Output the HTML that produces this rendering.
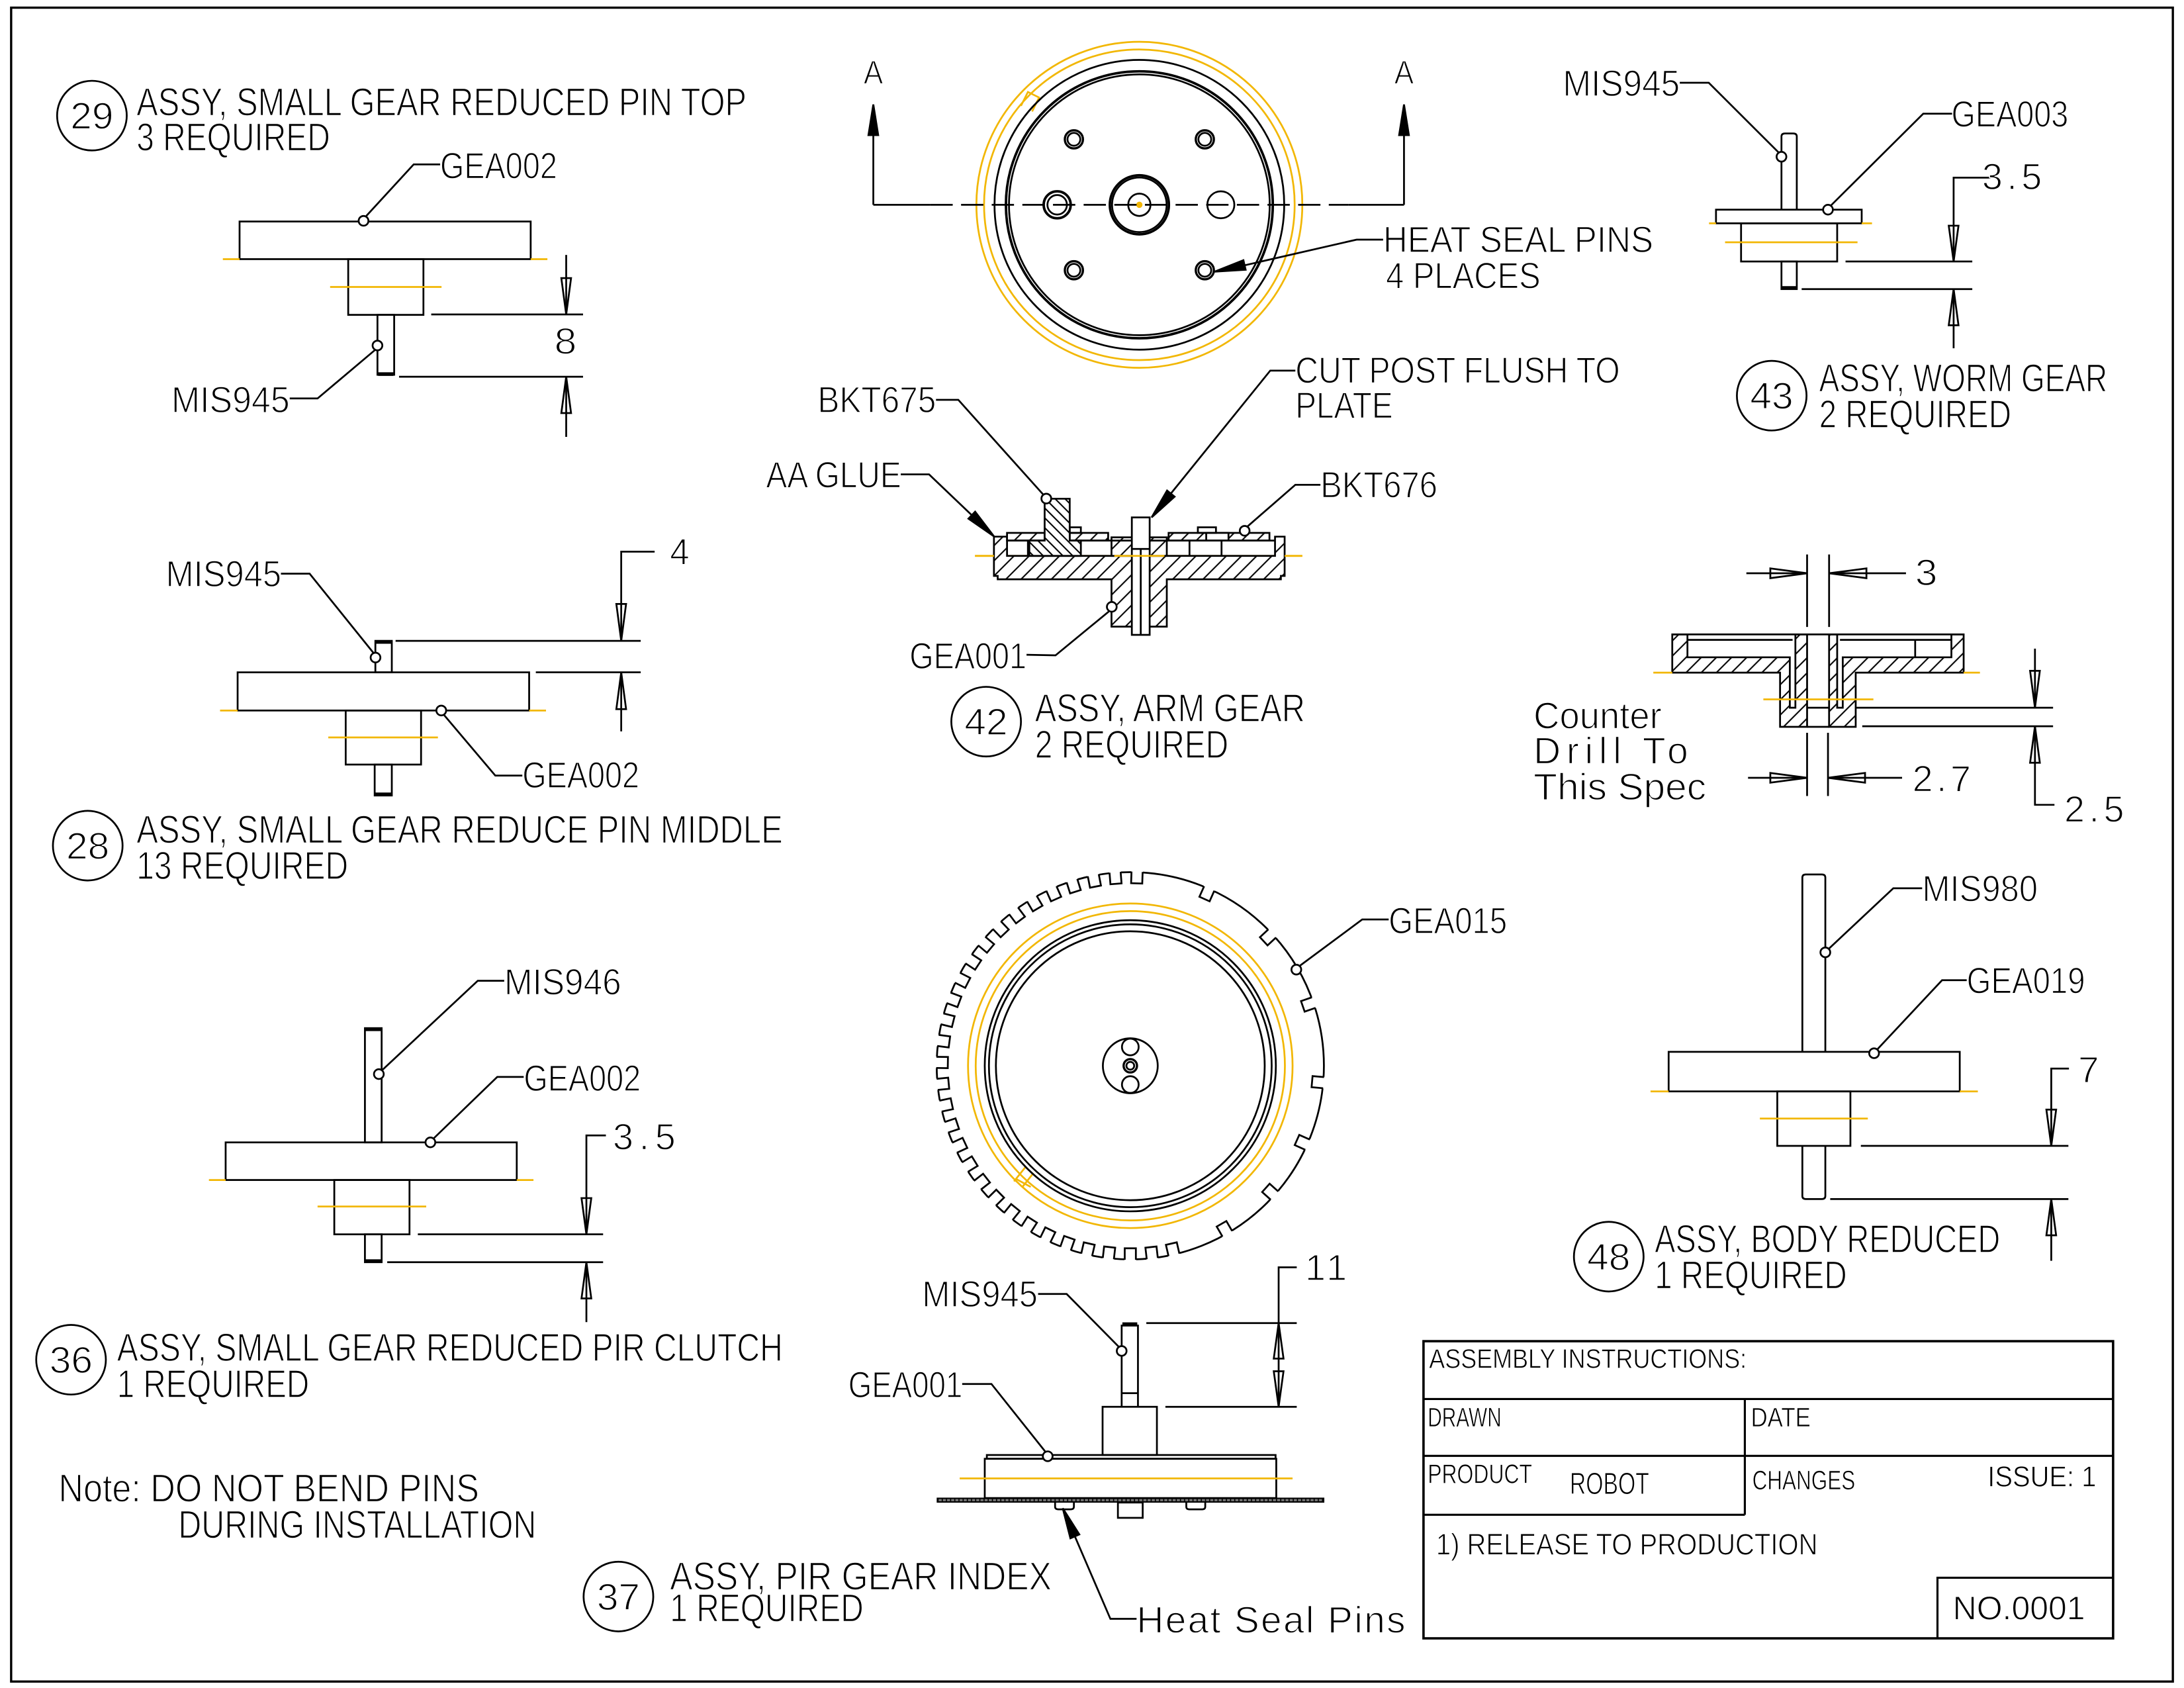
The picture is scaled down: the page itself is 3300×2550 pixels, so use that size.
<!DOCTYPE html>
<html><head><meta charset="utf-8">
<style>
html,body{margin:0;padding:0;background:#fff;}
svg{display:block;}
text{font-family:"Liberation Sans",sans-serif;fill:#000;stroke:#fff;stroke-width:0.7px;}
</style></head><body>
<svg xmlns="http://www.w3.org/2000/svg" xmlns:xlink="http://www.w3.org/1999/xlink" width="3300" height="2550" viewBox="0 0 1568 1211.64" preserveAspectRatio="none">
<defs>
<pattern id="hf" patternUnits="userSpaceOnUse" width="7.7" height="7.7" patternTransform="rotate(45)"><rect width="7.7" height="7.7" fill="#fff"/><line x1="3.85" y1="0" x2="3.85" y2="7.7" stroke="#000" stroke-width="1"/></pattern>
<pattern id="hb" patternUnits="userSpaceOnUse" width="5" height="5" patternTransform="rotate(-45)"><rect width="5" height="5" fill="#fff"/><line x1="2.5" y1="0" x2="2.5" y2="5" stroke="#000" stroke-width="1"/></pattern>
<pattern id="tk" patternUnits="userSpaceOnUse" width="3" height="4"><rect width="3" height="4" fill="#777"/><line x1="1.5" y1="0" x2="1.5" y2="4" stroke="#000" stroke-width="0.8"/></pattern>
<g id="slot"><rect x="129" y="-4.2" width="13" height="8.4" fill="#fff" stroke="none"/><polyline points="139.3,-4 131,-4 131,4 139.3,4" fill="none" stroke="#000" stroke-width="1.3"/></g>
</defs>
<rect width="1568" height="1211.64" fill="#fff"/>

<!-- border -->
<rect x="8" y="5.5" width="1552" height="1201.5" fill="none" stroke="#000" stroke-width="1.6"/>

<g fill="none" stroke="#000" stroke-width="1.3">
<!-- ============ PART 29 ============ -->
<rect x="172" y="159" width="209" height="27"/>
<rect x="250" y="186" width="54" height="40"/>
<rect x="271" y="226" width="12" height="43"/>
<line x1="271.5" y1="268.5" x2="282.5" y2="268.5" stroke-width="2.6"/>
<g stroke="#f2b705"><line x1="160" y1="186" x2="172" y2="186"/><line x1="381" y1="186" x2="393" y2="186"/><line x1="237" y1="206" x2="317" y2="206"/></g>
<polyline points="316,118 297,118 263,155"/><circle cx="261" cy="158.5" r="3.5" fill="#fff"/>
<polyline points="208,286 228,286 269.5,251"/><circle cx="271" cy="248" r="3.5" fill="#fff"/>
<line x1="309.6" y1="225.7" x2="418.6" y2="225.7"/>
<line x1="286.5" y1="270.4" x2="418.6" y2="270.4"/>
<line x1="406.5" y1="183" x2="406.5" y2="225.7"/>
<line x1="406.5" y1="270.4" x2="406.5" y2="313.6"/>
<polygon points="406.5,225.7 403,199.6 410,199.6"/>
<polygon points="406.5,270.4 403,296.5 410,296.5"/>

<!-- ============ PART 28 ============ -->
<rect x="269.5" y="460" width="11.8" height="22.6"/>
<line x1="270" y1="460.8" x2="281" y2="460.8" stroke-width="2.6"/>
<rect x="170.6" y="482.6" width="209.3" height="27.4"/>
<rect x="248.2" y="510" width="54.1" height="38.8"/>
<rect x="269" y="548.8" width="12.3" height="22.2"/>
<line x1="269.5" y1="570.2" x2="280.8" y2="570.2" stroke-width="2.6"/>
<g stroke="#f2b705"><line x1="158" y1="510" x2="170.6" y2="510"/><line x1="379.9" y1="510" x2="392" y2="510"/><line x1="235.7" y1="529.3" x2="314.4" y2="529.3"/></g>
<polyline points="201.7,411.8 222.3,411.8 268,468.5"/><circle cx="269.6" cy="472" r="3.5" fill="#fff"/>
<polyline points="375,556.7 355.6,556.7 318.6,513"/><circle cx="316.8" cy="510" r="3.5" fill="#fff"/>
<polyline points="470,396 446,396 446,460"/>
<line x1="446" y1="482.6" x2="446" y2="525"/>
<line x1="284" y1="460" x2="460" y2="460"/>
<line x1="384.7" y1="482.6" x2="460" y2="482.6"/>
<polygon points="446,460 442.5,433.5 449.5,433.5"/>
<polygon points="446,482.6 442.5,509 449.5,509"/>

<!-- ============ PART 36 ============ -->
<rect x="262" y="738" width="12" height="82"/>
<line x1="262.5" y1="738.8" x2="273.5" y2="738.8" stroke-width="2.6"/>
<rect x="162" y="820" width="209" height="27"/>
<rect x="240" y="847" width="54" height="39"/>
<rect x="262" y="886" width="12" height="20"/>
<line x1="262.5" y1="905.2" x2="273.5" y2="905.2" stroke-width="2.6"/>
<g stroke="#f2b705"><line x1="150" y1="847" x2="162" y2="847"/><line x1="371" y1="847" x2="383" y2="847"/><line x1="228" y1="866" x2="306" y2="866"/></g>
<polyline points="362,704 343,704 274.5,768"/><circle cx="272" cy="771" r="3.5" fill="#fff"/>
<polyline points="376,773 357,773 311.5,817"/><circle cx="309" cy="820" r="3.5" fill="#fff"/>
<polyline points="435,815 421,815 421,886"/>
<line x1="421" y1="906" x2="421" y2="949"/>
<line x1="300" y1="886" x2="433" y2="886"/>
<line x1="278" y1="906" x2="433" y2="906"/>
<polygon points="421,886 417.5,860 424.5,860"/>
<polygon points="421,906 417.5,932 424.5,932"/>

<!-- number circles -->
<circle cx="66" cy="83" r="25"/>
<circle cx="63" cy="607" r="25"/>
<circle cx="51" cy="976" r="25"/>
<circle cx="444" cy="1146" r="25"/>
<circle cx="708" cy="518" r="25"/>
<circle cx="1272" cy="284" r="25"/>
<circle cx="1155" cy="902" r="25"/>

<!-- ============ TOP PLAN VIEW ============ -->
<g stroke="#f2b705" stroke-width="1.3">
<circle cx="818" cy="147" r="117"/>
<circle cx="818" cy="147" r="111.5"/>
<path d="M733,76 L738,66 L746,70 L741,80"/>
<circle cx="818" cy="147" r="1.6" fill="#f2b705"/>
</g>
<circle cx="818" cy="147" r="104"/>
<circle cx="818" cy="147" r="95.8" stroke-width="1.8"/>
<circle cx="818" cy="147" r="93.6"/>
<circle cx="771" cy="100" r="6.5" stroke-width="1.6"/><circle cx="771" cy="100" r="4.6"/>
<circle cx="865" cy="100" r="6.5" stroke-width="1.6"/><circle cx="865" cy="100" r="4.6"/>
<circle cx="771" cy="194" r="6.5" stroke-width="1.6"/><circle cx="771" cy="194" r="4.6"/>
<circle cx="865" cy="194" r="6.5" stroke-width="1.6"/><circle cx="865" cy="194" r="4.6"/>
<circle cx="759" cy="147" r="9.7" stroke-width="1.8"/><circle cx="759" cy="147" r="7"/>
<circle cx="876.5" cy="147" r="9.7"/>
<circle cx="818" cy="147" r="21.2" stroke-width="1.8"/><circle cx="818" cy="147" r="19.6"/>
<circle cx="818" cy="147" r="8"/>
<!-- section line A-A -->
<line x1="627" y1="147" x2="668" y2="147"/>
<line x1="668" y1="147" x2="968" y2="147" stroke-dasharray="16,6"/>
<line x1="968" y1="147" x2="1008" y2="147"/>
<line x1="627" y1="147" x2="627" y2="95"/>
<line x1="1008" y1="147" x2="1008" y2="95"/>
<polygon points="627,75 623.5,97 630.5,97" fill="#000"/>
<polygon points="1008,75 1004.5,97 1011.5,97" fill="#000"/>
<!-- heat seal pins leader -->
<polyline points="993,172 974,172 892,190.8"/>
<polygon points="872,195 894.3,193.6 892.7,186.8" fill="#000"/>

<!-- ============ PART 42 SECTION ============ -->
<line x1="700" y1="399" x2="935" y2="399" stroke="#f2b705"/>
<path d="M713.6,385.2 L723,385.2 L723,399 L915.4,399 L915.4,385.2 L922.3,385.2 L922.3,413.4 L919.6,413.4 L919.6,415.8 L837.7,415.8 L837.7,449.8 L798,449.8 L798,415.8 L716.3,415.8 L716.3,413.4 L713.6,413.4 Z" fill="url(#hf)"/>
<rect x="798" y="385.7" width="39.7" height="13.3" fill="url(#hf)"/>
<rect x="723" y="382.5" width="27" height="5.5" fill="url(#hf)"/>
<rect x="768" y="382.5" width="27.6" height="5.5" fill="url(#hf)"/>
<rect x="839" y="382.5" width="72.4" height="5.5" fill="url(#hf)"/>
<rect x="866" y="382.5" width="16" height="5.5" fill="#fff"/>
<line x1="723" y1="388" x2="915.4" y2="388"/>
<line x1="738" y1="388" x2="738" y2="399"/>
<line x1="776" y1="388" x2="776" y2="399"/>
<line x1="854" y1="388" x2="854" y2="399"/>
<line x1="877" y1="388" x2="877" y2="399"/>
<polygon points="750,358 768,358 768,388 776,388 776,399 739,399 739,388 750,388" fill="url(#hb)"/>
<rect x="768" y="378.5" width="8" height="4"/>
<rect x="860" y="378.5" width="13" height="4"/>
<rect x="812.6" y="371.4" width="12.8" height="84.3" fill="#fff"/>
<line x1="812.6" y1="394" x2="825.4" y2="394"/>
<line x1="819" y1="394" x2="819" y2="455.7"/>
<line x1="700" y1="399" x2="713.6" y2="399" stroke="#f2b705"/>
<line x1="922.3" y1="399" x2="935" y2="399" stroke="#f2b705"/>
<line x1="800" y1="399" x2="836" y2="399" stroke="#f2b705"/>
<!-- leaders 42 -->
<polyline points="672,287 688,287 749,355"/><circle cx="751.2" cy="357.9" r="3.5" fill="#fff"/>
<polyline points="930,266 912,266 840.6,354.3"/>
<polygon points="826.8,371.4 843.3,356.5 837.9,352.1" fill="#000"/>
<polyline points="646.7,340.5 667,340.5 697.7,369.8"/>
<polygon points="713.6,385 695.3,372.3 700.1,367.3" fill="#000"/>
<polyline points="948,348 930,348 895.5,378"/><circle cx="893.6" cy="381" r="3.5" fill="#fff"/>
<polyline points="737,470 757.8,470.4 796,439"/><circle cx="798.2" cy="435.6" r="3.5" fill="#fff"/>

<!-- ============ PART 43 ============ -->
<path d="M1279,150.5 L1279,98 Q1279,95.8 1281.5,95.8 L1287.5,95.8 Q1290,95.8 1290,98 L1290,150.5"/>
<rect x="1232" y="150.5" width="104.6" height="9.8"/>
<rect x="1250" y="160.3" width="69" height="27.4"/>
<rect x="1279" y="187.7" width="11" height="19.8"/>
<line x1="1279.5" y1="206.7" x2="1289.5" y2="206.7" stroke-width="2.6"/>
<g stroke="#f2b705"><line x1="1227" y1="160.3" x2="1232" y2="160.3"/><line x1="1336.6" y1="160.3" x2="1344" y2="160.3"/><line x1="1238.5" y1="173.9" x2="1333.6" y2="173.9"/></g>
<polyline points="1206,59.4 1226.8,59.4 1277,109.5"/><circle cx="1279" cy="112.5" r="3.5" fill="#fff"/>
<polyline points="1401.5,81.6 1380.8,81.6 1314.5,147.5"/><circle cx="1312.4" cy="150.5" r="3.5" fill="#fff"/>
<polyline points="1429,127.5 1402.6,127.5 1402.6,187.7"/>
<line x1="1402.6" y1="207.5" x2="1402.6" y2="250"/>
<line x1="1325" y1="187.7" x2="1416" y2="187.7"/>
<line x1="1293.5" y1="207.5" x2="1416" y2="207.5"/>
<polygon points="1402.6,187.7 1399.1,162 1406.1,162"/>
<polygon points="1402.6,207.5 1399.1,233.5 1406.1,233.5"/>

<!-- ============ COUNTER DRILL SECTION ============ -->
<path d="M1200.6,455.4 L1211.5,455.4 L1211.5,471.8 L1285,471.8 L1285,508 L1289,508 L1289,455.4 L1297.4,455.4 L1297.4,521.7 L1278,521.7 L1278,482.8 L1200.6,482.8 Z" fill="url(#hf)"/>
<path d="M1409.8,455.4 L1401,455.4 L1401,471.8 L1323,471.8 L1323,508 L1319,508 L1319,455.4 L1313.2,455.4 L1313.2,521.7 L1332.3,521.7 L1332.3,482.8 L1409.8,482.8 Z" fill="url(#hf)"/>
<line x1="1200.6" y1="455.4" x2="1409.8" y2="455.4"/>
<line x1="1211.5" y1="459.3" x2="1287" y2="459.3"/>
<line x1="1321" y1="459.3" x2="1401" y2="459.3"/>
<line x1="1375" y1="459.3" x2="1375" y2="471.8"/>
<line x1="1297.4" y1="508" x2="1313.2" y2="508"/>
<line x1="1297.4" y1="521.7" x2="1313.2" y2="521.7"/>
<g stroke="#f2b705"><line x1="1187" y1="482.8" x2="1200.6" y2="482.8"/><line x1="1409.8" y1="482.8" x2="1421.5" y2="482.8"/><line x1="1266" y1="502" x2="1345" y2="502"/></g>
<line x1="1297.4" y1="398" x2="1297.4" y2="450"/>
<line x1="1313.2" y1="398" x2="1313.2" y2="450"/>
<line x1="1253.8" y1="411.5" x2="1297.4" y2="411.5"/>
<line x1="1313.2" y1="411.5" x2="1368.4" y2="411.5"/>
<polygon points="1297.4,411.5 1271,408 1271,415"/>
<polygon points="1313.2,411.5 1340,408 1340,415"/>
<line x1="1297.4" y1="526" x2="1297.4" y2="571.4"/>
<line x1="1312.4" y1="526" x2="1312.4" y2="571.4"/>
<line x1="1255" y1="558.3" x2="1297.4" y2="558.3"/>
<line x1="1312.4" y1="558.3" x2="1365.6" y2="558.3"/>
<polygon points="1297.4,558.3 1271,554.8 1271,561.8"/>
<polygon points="1312.4,558.3 1339,554.8 1339,561.8"/>
<line x1="1332" y1="508" x2="1474" y2="508"/>
<line x1="1337" y1="521.3" x2="1474" y2="521.3"/>
<line x1="1461" y1="465.6" x2="1461" y2="508"/>
<polyline points="1461,521.3 1461,577.7 1475,577.7"/>
<polygon points="1461,508 1457.5,481.5 1464.5,481.5"/>
<polygon points="1461,521.3 1457.5,547.5 1464.5,547.5"/>

<!-- ============ PART 48 ============ -->
<path d="M1294,755 L1294,630 Q1294,627.7 1296.5,627.7 L1308,627.7 Q1310.5,627.7 1310.5,630 L1310.5,755"/>
<rect x="1198" y="755" width="209" height="28.4"/>
<rect x="1276" y="783.4" width="52.5" height="39.1"/>
<path d="M1294,822.5 L1294,858.5 Q1294,860.7 1296.5,860.7 L1308,860.7 Q1310.5,860.7 1310.5,858.5 L1310.5,822.5"/>
<g stroke="#f2b705"><line x1="1185" y1="783.4" x2="1198" y2="783.4"/><line x1="1407" y1="783.4" x2="1420" y2="783.4"/><line x1="1263.5" y1="802.9" x2="1341" y2="802.9"/></g>
<polyline points="1380,637.6 1359.3,637.6 1313,681"/><circle cx="1310.5" cy="683.6" r="3.5" fill="#fff"/>
<polyline points="1412,703.6 1394.3,703.6 1348,753"/><circle cx="1345.5" cy="756" r="3.5" fill="#fff"/>
<polyline points="1485.4,767 1472.7,767 1472.7,822.5"/>
<line x1="1472.7" y1="860.7" x2="1472.7" y2="905"/>
<line x1="1336" y1="822.5" x2="1485" y2="822.5"/>
<line x1="1314" y1="860.7" x2="1485" y2="860.7"/>
<polygon points="1472.7,822.5 1469.2,796.5 1476.2,796.5"/>
<polygon points="1472.7,860.7 1469.2,886.7 1476.2,886.7"/>

<!-- ============ GEAR (GEA015) ============ -->
<circle cx="811.5" cy="765" r="139"/>
<g transform="translate(811.5,765)">
<use xlink:href="#slot" href="#slot" transform="rotate(272)"/>
<use xlink:href="#slot" href="#slot" transform="rotate(265.5)"/>
<use xlink:href="#slot" href="#slot" transform="rotate(259)"/>
<use xlink:href="#slot" href="#slot" transform="rotate(252.5)"/>
<use xlink:href="#slot" href="#slot" transform="rotate(246)"/>
<use xlink:href="#slot" href="#slot" transform="rotate(239.5)"/>
<use xlink:href="#slot" href="#slot" transform="rotate(233)"/>
<use xlink:href="#slot" href="#slot" transform="rotate(226.5)"/>
<use xlink:href="#slot" href="#slot" transform="rotate(220)"/>
<use xlink:href="#slot" href="#slot" transform="rotate(213.5)"/>
<use xlink:href="#slot" href="#slot" transform="rotate(207)"/>
<use xlink:href="#slot" href="#slot" transform="rotate(200.5)"/>
<use xlink:href="#slot" href="#slot" transform="rotate(194)"/>
<use xlink:href="#slot" href="#slot" transform="rotate(187.5)"/>
<use xlink:href="#slot" href="#slot" transform="rotate(181)"/>
<use xlink:href="#slot" href="#slot" transform="rotate(174.5)"/>
<use xlink:href="#slot" href="#slot" transform="rotate(168)"/>
<use xlink:href="#slot" href="#slot" transform="rotate(161.5)"/>
<use xlink:href="#slot" href="#slot" transform="rotate(155)"/>
<use xlink:href="#slot" href="#slot" transform="rotate(148.5)"/>
<use xlink:href="#slot" href="#slot" transform="rotate(142)"/>
<use xlink:href="#slot" href="#slot" transform="rotate(135.5)"/>
<use xlink:href="#slot" href="#slot" transform="rotate(129)"/>
<use xlink:href="#slot" href="#slot" transform="rotate(122.5)"/>
<use xlink:href="#slot" href="#slot" transform="rotate(116)"/>
<use xlink:href="#slot" href="#slot" transform="rotate(109.5)"/>
<use xlink:href="#slot" href="#slot" transform="rotate(103)"/>
<use xlink:href="#slot" href="#slot" transform="rotate(96.5)"/>
<use xlink:href="#slot" href="#slot" transform="rotate(90)"/>
<use xlink:href="#slot" href="#slot" transform="rotate(83.5)"/>
<use xlink:href="#slot" href="#slot" transform="rotate(77)"/>
<use xlink:href="#slot" href="#slot" transform="rotate(294)"/>
<use xlink:href="#slot" href="#slot" transform="rotate(317)"/>
<use xlink:href="#slot" href="#slot" transform="rotate(341)"/>
<use xlink:href="#slot" href="#slot" transform="rotate(5)"/>
<use xlink:href="#slot" href="#slot" transform="rotate(24)"/>
<use xlink:href="#slot" href="#slot" transform="rotate(42)"/>
<use xlink:href="#slot" href="#slot" transform="rotate(60)"/>
</g>
<g stroke="#f2b705">
<circle cx="811.5" cy="765" r="116.5"/>
<circle cx="811.5" cy="765" r="111"/>
<path d="M728,848 L736,838 M734,852 L742,842 M729,846 L740,852"/>
</g>
<circle cx="811.5" cy="765" r="104.5"/>
<circle cx="811.5" cy="765" r="101.5"/>
<circle cx="811.5" cy="765" r="96.5"/>
<circle cx="811.5" cy="765" r="19.7"/>
<circle cx="811.5" cy="751.5" r="6"/>
<circle cx="811.5" cy="778.5" r="6"/>
<circle cx="811.5" cy="765" r="4.8" stroke-width="1.6"/>
<circle cx="811.5" cy="765" r="2.8"/>
<polyline points="997,660 978,660 933.5,693"/><circle cx="930.7" cy="696" r="3.5" fill="#fff"/>

<!-- ============ PART 37 ============ -->
<path d="M805.3,1009.8 L805.3,951.5 L817,951.5 L817,1009.8"/>
<line x1="805.8" y1="950.5" x2="816.5" y2="950.5" stroke-width="2.6"/>
<line x1="805.3" y1="1000" x2="817" y2="1000"/>
<rect x="791.6" y="1009.8" width="39" height="34.6"/>
<rect x="708.5" y="1044.4" width="207.3" height="2.7"/>
<rect x="707" y="1047.1" width="209.3" height="28.2"/>
<line x1="689" y1="1061.2" x2="928" y2="1061.2" stroke="#f2b705"/>
<rect x="673" y="1075.5" width="277.3" height="2.6" fill="url(#tk)" stroke-width="1"/>
<path d="M757.5,1078.5 L757.5,1081.5 Q757.5,1083.4 760,1083.4 L768.5,1083.4 Q771,1083.4 771,1081.5 L771,1078.5"/>
<path d="M851.7,1078.5 L851.7,1081.5 Q851.7,1083.4 854,1083.4 L863,1083.4 Q865.3,1083.4 865.3,1081.5 L865.3,1078.5"/>
<rect x="802.6" y="1078.5" width="17.8" height="11"/>
<polyline points="745.3,928.8 765.8,928.8 803,966.5"/><circle cx="805.3" cy="969.7" r="3.5" fill="#fff"/>
<polyline points="690.8,993.4 711.8,993.4 750.5,1042"/><circle cx="752.2" cy="1045.3" r="3.5" fill="#fff"/>
<polyline points="931,909.7 918,909.7 918,1009.8"/>
<line x1="823" y1="949.7" x2="931" y2="949.7"/>
<line x1="836.7" y1="1009.8" x2="931" y2="1009.8"/>
<polygon points="918,949.7 914.5,975.2 921.5,975.2"/>
<polygon points="918,1009.8 914.5,984.3 921.5,984.3"/>
<polyline points="816,1162 797.2,1162 771.7,1102.8"/>
<polygon points="763,1082.6 774.9,1101.4 768.5,1104.2" fill="#000"/>

<!-- ============ TITLE BLOCK ============ -->
<rect x="1022" y="962.7" width="495.1" height="213.3" stroke-width="1.7"/>
<line x1="1022" y1="1004.2" x2="1517.1" y2="1004.2" stroke-width="1.5"/>
<line x1="1022" y1="1045" x2="1517.1" y2="1045" stroke-width="1.5"/>
<line x1="1022" y1="1087.3" x2="1252.7" y2="1087.3" stroke-width="1.5"/>
<line x1="1252.7" y1="1004.2" x2="1252.7" y2="1087.3" stroke-width="1.5"/>
<polyline points="1391,1176 1391,1132.5 1517.1,1132.5" stroke-width="1.5"/>
</g>

<!-- ============ TEXT ============ -->
<g font-size="26.5">
<text x="66" y="92.5" font-size="27" text-anchor="middle" textLength="31" lengthAdjust="spacingAndGlyphs">29</text>
<text x="98" y="83" font-size="28" textLength="438" lengthAdjust="spacingAndGlyphs">ASSY, SMALL GEAR REDUCED PIN TOP</text>
<text x="98" y="108" font-size="28" textLength="139" lengthAdjust="spacingAndGlyphs">3 REQUIRED</text>
<text x="316" y="128" textLength="84" lengthAdjust="spacingAndGlyphs">GEA002</text>
<text x="123" y="296" textLength="85" lengthAdjust="spacingAndGlyphs">MIS945</text>
<text x="398" y="254" textLength="16" lengthAdjust="spacingAndGlyphs">8</text>

<text x="119" y="421" textLength="83" lengthAdjust="spacingAndGlyphs">MIS945</text>
<text x="481" y="405" textLength="14" lengthAdjust="spacingAndGlyphs">4</text>
<text x="375" y="565.5" textLength="84" lengthAdjust="spacingAndGlyphs">GEA002</text>
<text x="63" y="616.5" font-size="27" text-anchor="middle" textLength="31" lengthAdjust="spacingAndGlyphs">28</text>
<text x="98" y="605" font-size="28" textLength="464" lengthAdjust="spacingAndGlyphs">ASSY, SMALL GEAR REDUCE PIN MIDDLE</text>
<text x="98" y="631" font-size="28" textLength="152" lengthAdjust="spacingAndGlyphs">13 REQUIRED</text>

<text x="362" y="714" textLength="84" lengthAdjust="spacingAndGlyphs">MIS946</text>
<text x="376" y="783" textLength="84" lengthAdjust="spacingAndGlyphs">GEA002</text>
<text x="440" y="825" textLength="45" lengthAdjust="spacing">3.5</text>
<text x="51" y="985.5" font-size="27" text-anchor="middle" textLength="31" lengthAdjust="spacingAndGlyphs">36</text>
<text x="84" y="977" font-size="28" textLength="478" lengthAdjust="spacingAndGlyphs">ASSY, SMALL GEAR REDUCED PIR CLUTCH</text>
<text x="84" y="1003" font-size="28" textLength="138" lengthAdjust="spacingAndGlyphs">1 REQUIRED</text>

<text x="42" y="1078" font-size="28" textLength="302" lengthAdjust="spacingAndGlyphs">Note: DO NOT BEND PINS</text>
<text x="128" y="1104" font-size="28" textLength="257" lengthAdjust="spacingAndGlyphs">DURING INSTALLATION</text>

<text x="620" y="60" font-size="24" textLength="14" lengthAdjust="spacingAndGlyphs">A</text>
<text x="1001" y="60" font-size="24" textLength="14" lengthAdjust="spacingAndGlyphs">A</text>
<text x="993" y="181" textLength="194" lengthAdjust="spacingAndGlyphs">HEAT SEAL PINS</text>
<text x="995" y="207" textLength="111" lengthAdjust="spacingAndGlyphs">4 PLACES</text>

<text x="587" y="296" textLength="85" lengthAdjust="spacingAndGlyphs">BKT675</text>
<text x="930" y="275" textLength="233" lengthAdjust="spacingAndGlyphs">CUT POST FLUSH TO</text>
<text x="930" y="300" textLength="70" lengthAdjust="spacingAndGlyphs">PLATE</text>
<text x="550" y="350" textLength="97" lengthAdjust="spacingAndGlyphs">AA GLUE</text>
<text x="948" y="357" textLength="84" lengthAdjust="spacingAndGlyphs">BKT676</text>
<text x="653" y="480" textLength="84" lengthAdjust="spacingAndGlyphs">GEA001</text>
<text x="708" y="527.5" font-size="27" text-anchor="middle" textLength="31" lengthAdjust="spacingAndGlyphs">42</text>
<text x="743" y="518" font-size="28" textLength="194" lengthAdjust="spacingAndGlyphs">ASSY, ARM GEAR</text>
<text x="743" y="544" font-size="28" textLength="139" lengthAdjust="spacingAndGlyphs">2 REQUIRED</text>

<text x="1122" y="69" textLength="84" lengthAdjust="spacingAndGlyphs">MIS945</text>
<text x="1401" y="91" textLength="84" lengthAdjust="spacingAndGlyphs">GEA003</text>
<text x="1423" y="136" textLength="43" lengthAdjust="spacing">3.5</text>
<text x="1272" y="293.5" font-size="27" text-anchor="middle" textLength="31" lengthAdjust="spacingAndGlyphs">43</text>
<text x="1306" y="281" font-size="28" textLength="207" lengthAdjust="spacingAndGlyphs">ASSY, WORM GEAR</text>
<text x="1306" y="307" font-size="28" textLength="138" lengthAdjust="spacingAndGlyphs">2 REQUIRED</text>

<text x="1375" y="420" textLength="16" lengthAdjust="spacingAndGlyphs">3</text>
<text x="1101" y="523" font-size="27" textLength="92" lengthAdjust="spacingAndGlyphs">Counter</text>
<text x="1101" y="548" font-size="27" textLength="111" lengthAdjust="spacing">Drill To</text>
<text x="1101" y="574" font-size="27" textLength="124" lengthAdjust="spacingAndGlyphs">This Spec</text>
<text x="1373" y="568" textLength="42" lengthAdjust="spacing">2.7</text>
<text x="1482" y="590" textLength="43" lengthAdjust="spacing">2.5</text>

<text x="1380" y="647" textLength="83" lengthAdjust="spacingAndGlyphs">MIS980</text>
<text x="1412" y="713" textLength="85" lengthAdjust="spacingAndGlyphs">GEA019</text>
<text x="1492" y="777" textLength="15" lengthAdjust="spacingAndGlyphs">7</text>
<text x="1155" y="911.5" font-size="27" text-anchor="middle" textLength="31" lengthAdjust="spacingAndGlyphs">48</text>
<text x="1188" y="899" font-size="28" textLength="248" lengthAdjust="spacingAndGlyphs">ASSY, BODY REDUCED</text>
<text x="1188" y="925" font-size="28" textLength="138" lengthAdjust="spacingAndGlyphs">1 REQUIRED</text>

<text x="997" y="670" textLength="85" lengthAdjust="spacingAndGlyphs">GEA015</text>
<text x="662" y="938" textLength="83" lengthAdjust="spacingAndGlyphs">MIS945</text>
<text x="937" y="919" textLength="30" lengthAdjust="spacing">11</text>
<text x="609" y="1003" textLength="82" lengthAdjust="spacingAndGlyphs">GEA001</text>
<text x="444" y="1155.5" font-size="27" text-anchor="middle" textLength="31" lengthAdjust="spacingAndGlyphs">37</text>
<text x="481" y="1141" font-size="28" textLength="274" lengthAdjust="spacingAndGlyphs">ASSY, PIR GEAR INDEX</text>
<text x="481" y="1164" font-size="28" textLength="139" lengthAdjust="spacingAndGlyphs">1 REQUIRED</text>
<text x="816" y="1172" font-size="27" textLength="193" lengthAdjust="spacing">Heat Seal Pins</text>

<text x="1026" y="982" font-size="19.5" textLength="228" lengthAdjust="spacingAndGlyphs" style="stroke-width:0.4px">ASSEMBLY INSTRUCTIONS:</text>
<text x="1025" y="1024" font-size="19.5" textLength="53" lengthAdjust="spacingAndGlyphs" style="stroke-width:0.4px">DRAWN</text>
<text x="1257" y="1024" font-size="19.5" textLength="43" lengthAdjust="spacingAndGlyphs" style="stroke-width:0.4px">DATE</text>
<text x="1025" y="1064.5" font-size="19.5" textLength="75" lengthAdjust="spacingAndGlyphs" style="stroke-width:0.4px">PRODUCT</text>
<text x="1127" y="1072.5" font-size="22" textLength="57" lengthAdjust="spacingAndGlyphs" style="stroke-width:0.5px">ROBOT</text>
<text x="1258" y="1069" font-size="19.5" textLength="74" lengthAdjust="spacingAndGlyphs" style="stroke-width:0.4px">CHANGES</text>
<text x="1427" y="1067" font-size="20.5" textLength="78" lengthAdjust="spacingAndGlyphs" style="stroke-width:0.4px">ISSUE: 1</text>
<text x="1031" y="1116" font-size="21.5" textLength="274" lengthAdjust="spacingAndGlyphs" style="stroke-width:0.5px">1) RELEASE TO PRODUCTION</text>
<text x="1402" y="1162.5" font-size="24" textLength="95" lengthAdjust="spacingAndGlyphs" style="stroke-width:0.5px">NO.0001</text>
</g>
</svg>
</body></html>
